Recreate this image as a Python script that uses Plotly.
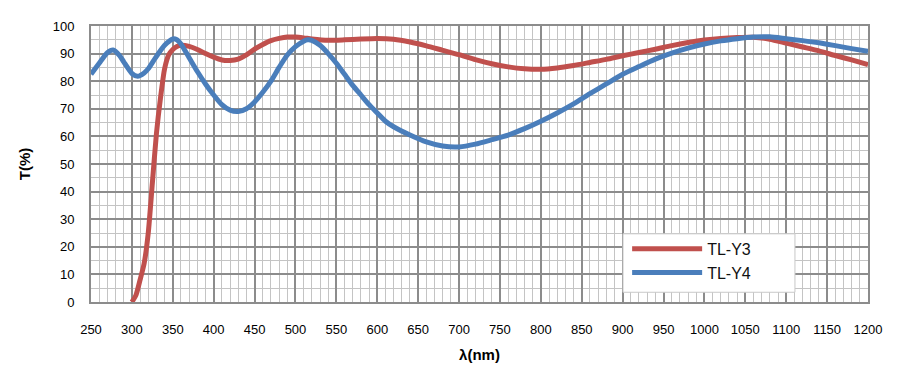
import plotly.graph_objects as go

# Wavelength (nm) and transmittance (%)
wl_y3 = [300, 305, 310, 315, 320, 325, 330, 335, 340, 345, 350, 355, 360, 370, 380, 390,
         400, 410, 420, 430, 440, 450, 460, 470, 480, 490, 500, 510, 520, 540, 560, 580,
         600, 620, 640, 660, 680, 700, 720, 740, 760, 780, 800, 820, 840, 860, 880, 900,
         920, 940, 960, 980, 1000, 1020, 1040, 1060, 1080, 1100, 1120, 1140, 1160, 1180, 1200]
t_y3 = [0, 2.5, 8, 14, 25, 43, 61, 74, 84.5, 89.5, 91.5, 92.6, 93, 92.6, 91.5, 90,
        88.7, 87.7, 87.5, 88, 89.5, 91.6, 93.3, 94.7, 95.5, 96, 96, 95.7, 95.3, 94.8, 95, 95.3,
        95.5, 95.2, 94.2, 92.8, 91.2, 89.6, 87.8, 86.3, 85.2, 84.5, 84.3, 84.8, 85.7, 86.8, 87.9, 89.2,
        90.4, 91.6, 92.9, 94, 94.9, 95.5, 95.8, 95.9, 95.2, 93.8, 92.4, 91, 89.3, 87.7, 86]

wl_y4 = [250, 260, 270, 277, 285, 290, 300, 307, 315, 320, 330, 340, 350, 355, 360, 370,
         380, 390, 400, 410, 420, 430, 440, 450, 460, 470, 480, 490, 500, 510, 515, 520,
         530, 540, 550, 560, 570, 580, 590, 600, 610, 620, 640, 660, 680, 700, 720, 740,
         760, 780, 800, 820, 840, 860, 880, 900, 920, 940, 960, 980, 1000, 1020, 1040, 1060,
         1080, 1100, 1120, 1140, 1160, 1180, 1200]
t_y4 = [82.5, 86.5, 90.3, 91.3, 89.3, 87, 82.8, 81.8, 83, 84.5, 89, 93, 95.3, 95, 93.5, 88.5,
        83.5, 79, 75, 71.5, 69.5, 69, 70, 72.5, 76, 80, 85, 89.5, 92.5, 94.5, 95, 94.8,
        93, 90, 86.5, 82.5, 78.5, 75, 71.5, 68.5, 65.5, 63.5, 60.5, 58, 56.5, 56.2, 57.2, 58.8,
        60.5, 62.8, 65.5, 68.5, 71.8, 75.5, 79, 82.5, 85.3, 88, 90.2, 92, 93.5, 94.6, 95.4, 96,
        96.1, 95.4, 94.7, 93.9, 92.9, 91.8, 90.8]

x_ticks = list(range(250, 1201, 50))
y_ticks = list(range(0, 101, 10))

RED = "#C0504D"
BLUE = "#4A7EBB"

fig = go.Figure()
fig.add_trace(go.Scatter(x=wl_y3, y=t_y3, mode="lines", name="TL-Y3",
                         line=dict(color=RED, width=5, shape="spline", smoothing=0.6)))
fig.add_trace(go.Scatter(x=wl_y4, y=t_y4, mode="lines", name="TL-Y4",
                         line=dict(color=BLUE, width=5, shape="spline", smoothing=0.6)))

font_family = "Liberation Sans, Arial, sans-serif"

# legend background box (wider than plotly's auto-sized legend)
fig.add_shape(type="rect", xref="paper", yref="paper",
              x0=0.6847, x1=0.906, y0=0.0353, y1=0.247,
              fillcolor="white", line=dict(color="#C8C8C8", width=1), layer="above")

fig.update_layout(
    width=900, height=380,
    margin=dict(l=83, r=40, t=11, b=86),
    paper_bgcolor="white", plot_bgcolor="white",
    font=dict(family=font_family, color="#000000", size=13),
    showlegend=True,
    legend=dict(x=0.69, y=0.254, xanchor="left", yanchor="top",
                bgcolor="rgba(0,0,0,0)", borderwidth=0,
                font=dict(size=16, color="#111111", family=font_family),
                tracegroupgap=0, itemwidth=70),
    xaxis=dict(
        range=[250, 1200], tickmode="array", tickvals=x_ticks,
        ticktext=[str(v) for v in x_ticks],
        showgrid=True, gridcolor="#8C8C8C", gridwidth=1.5,
        minor=dict(dtick=10, showgrid=True, gridcolor="#C4C4C4", gridwidth=1),
        showline=True, linecolor="#8C8C8C", linewidth=2, mirror=True,
        ticks="", ticklabelstandoff=14, zeroline=False,
        title=dict(text="<b>λ(nm)</b>", font=dict(size=15), standoff=14),
    ),
    yaxis=dict(
        range=[0, 100], tickmode="array", tickvals=y_ticks,
        ticktext=[str(v) for v in y_ticks],
        showgrid=True, gridcolor="#8C8C8C", gridwidth=1.5,
        minor=dict(dtick=5, showgrid=True, gridcolor="#C4C4C4", gridwidth=1),
        showline=True, linecolor="#8C8C8C", linewidth=2, mirror=True,
        ticks="", ticklabelstandoff=12, zeroline=False,
        title=dict(text="<b>T(%)</b>", font=dict(size=15), standoff=18),
    ),
)

fig.write_html("out.html")
